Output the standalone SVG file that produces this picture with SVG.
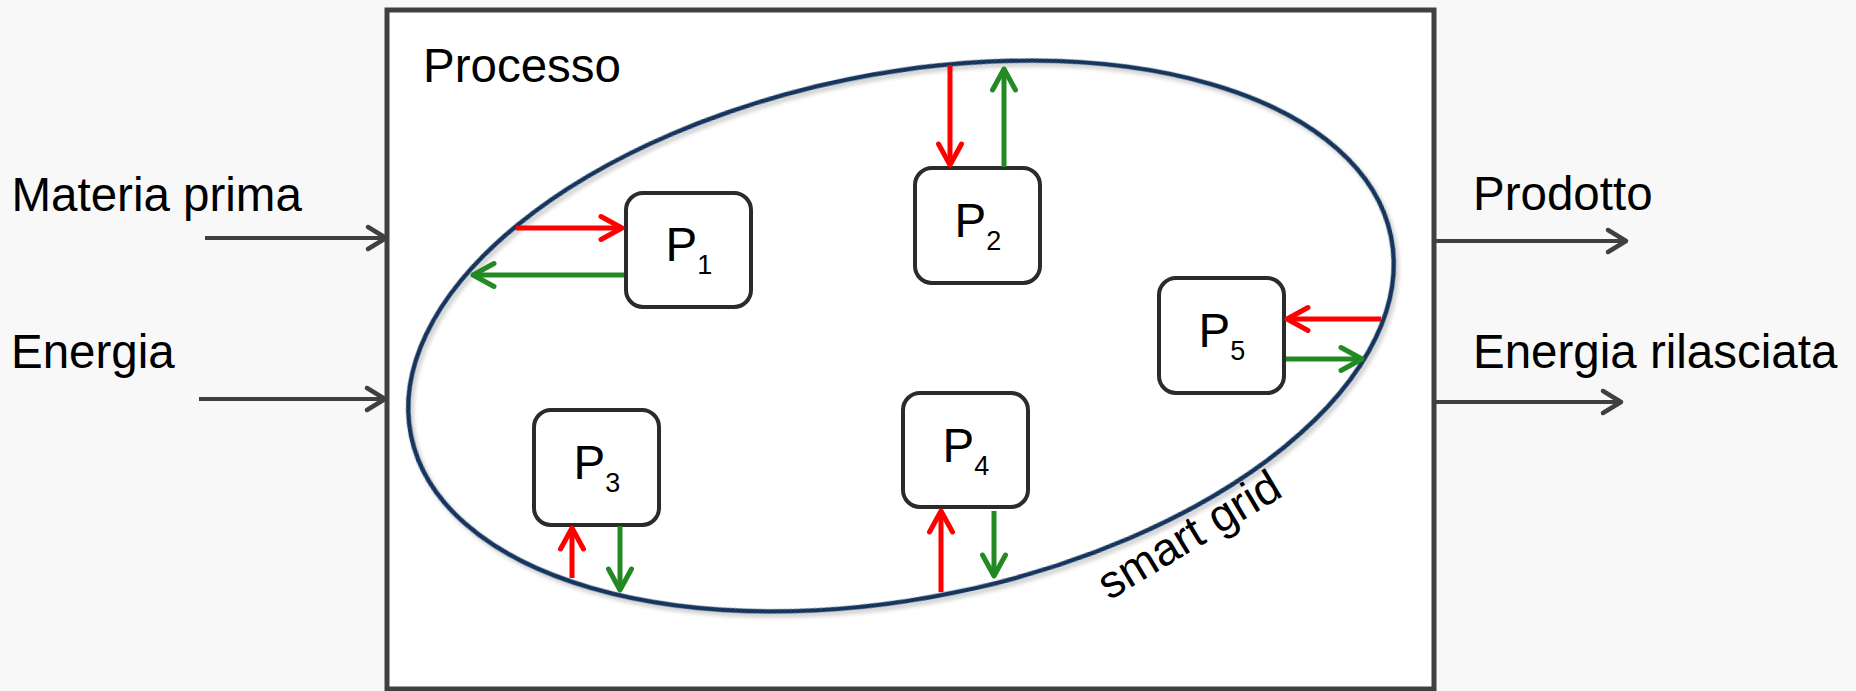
<svg xmlns="http://www.w3.org/2000/svg" width="1856" height="691" viewBox="0 0 1856 691">
<style>
.lbl{font-family:"Liberation Sans",Arial,sans-serif;font-size:47.5px;fill:#000}
.nbox{fill:#fff;stroke:#2b2b2b;stroke-width:4}
.ntxt{font-family:"Liberation Sans",Arial,sans-serif;font-size:47.5px;fill:#000}
.sub{font-size:27px}
.io{stroke:#404040;stroke-width:4;fill:none;marker-end:url(#mg)}
.r{stroke:#ff0000;stroke-width:5;fill:none;marker-end:url(#mr)}
.g{stroke:#238a23;stroke-width:5;fill:none;marker-end:url(#mgr)}
</style>
<defs>
<marker id="mg" markerUnits="userSpaceOnUse" markerWidth="40" markerHeight="40" viewBox="-30 -20 40 40" refX="0" refY="0" orient="auto"><path d="M-18,-11 L0,0 L-18,11" fill="none" stroke="#404040" stroke-width="4.5" stroke-linecap="round" stroke-linejoin="round"/></marker>
<marker id="mr" markerUnits="userSpaceOnUse" markerWidth="40" markerHeight="40" viewBox="-30 -20 40 40" refX="0" refY="0" orient="auto"><path d="M-21,-11.5 L0,0 L-21,11.5" fill="none" stroke="#ff0000" stroke-width="5" stroke-linecap="round" stroke-linejoin="round"/></marker>
<marker id="mgr" markerUnits="userSpaceOnUse" markerWidth="40" markerHeight="40" viewBox="-30 -20 40 40" refX="0" refY="0" orient="auto"><path d="M-21,-11.5 L0,0 L-21,11.5" fill="none" stroke="#238a23" stroke-width="5" stroke-linecap="round" stroke-linejoin="round"/></marker>
<filter id="sh" x="-10%" y="-10%" width="120%" height="130%"><feDropShadow dx="2" dy="4" stdDeviation="2" flood-color="#000" flood-opacity="0.22"/></filter>
</defs>
<rect x="0" y="0" width="1856" height="691" fill="#f8f8f8"/>
<g id="processo">
<rect x="387" y="10" width="1047" height="679" fill="#fff" stroke="#404040" stroke-width="5"/>
<text class="lbl" x="423" y="82">Processo</text>
</g>
<g id="smartgrid">
<ellipse cx="901" cy="336" rx="500" ry="262" transform="rotate(-11.5 901 336)" fill="none" stroke="#17365d" stroke-width="4.5" filter="url(#sh)"/>
<text class="lbl" x="1197" y="548" text-anchor="middle" transform="rotate(-31 1197 548)" style="font-size:46px">smart grid</text>
</g>
<g id="inputs">
<text class="lbl" x="11.5" y="211">Materia prima</text>
<text class="lbl" x="11" y="368">Energia</text>
</g>
<g id="outputs">
<text class="lbl" x="1473" y="210">Prodotto</text>
<text class="lbl" x="1473" y="368">Energia rilasciata</text>
</g>
<g id="P1"><rect class="nbox" x="626" y="193" width="125" height="114" rx="17"/><text class="ntxt" x="665.5" y="261">P<tspan class="sub" dy="12.5">1</tspan></text></g>
<g id="P2"><rect class="nbox" x="915" y="168" width="125" height="115" rx="17"/><text class="ntxt" x="954.5" y="237">P<tspan class="sub" dy="12.5">2</tspan></text></g>
<g id="P3"><rect class="nbox" x="534" y="410" width="125" height="115" rx="17"/><text class="ntxt" x="573.5" y="479">P<tspan class="sub" dy="12.5">3</tspan></text></g>
<g id="P4"><rect class="nbox" x="903" y="393" width="125" height="114" rx="17"/><text class="ntxt" x="942.5" y="462">P<tspan class="sub" dy="12.5">4</tspan></text></g>
<g id="P5"><rect class="nbox" x="1159" y="278" width="125" height="115" rx="17"/><text class="ntxt" x="1198.5" y="347">P<tspan class="sub" dy="12.5">5</tspan></text></g>
<g id="connectors">
<line class="io" x1="205" y1="238" x2="386" y2="238"/>
<line class="io" x1="199" y1="399" x2="385" y2="399"/>
<line class="io" x1="1434" y1="241" x2="1626" y2="241"/>
<line class="io" x1="1434" y1="402" x2="1621" y2="402"/>
<line class="r" x1="516" y1="228" x2="622" y2="228"/>
<line class="g" x1="624" y1="275" x2="473" y2="275"/>
<line class="r" x1="950" y1="65" x2="950" y2="165"/>
<line class="g" x1="1004" y1="167" x2="1004" y2="69"/>
<line class="r" x1="572" y1="578" x2="572" y2="528"/>
<line class="g" x1="620" y1="526" x2="620" y2="590"/>
<line class="r" x1="941" y1="592" x2="941" y2="511"/>
<line class="g" x1="994" y1="511" x2="994" y2="576"/>
<line class="r" x1="1381" y1="319" x2="1287" y2="319"/>
<line class="g" x1="1286" y1="359" x2="1362" y2="359"/>
</g>
</svg>
